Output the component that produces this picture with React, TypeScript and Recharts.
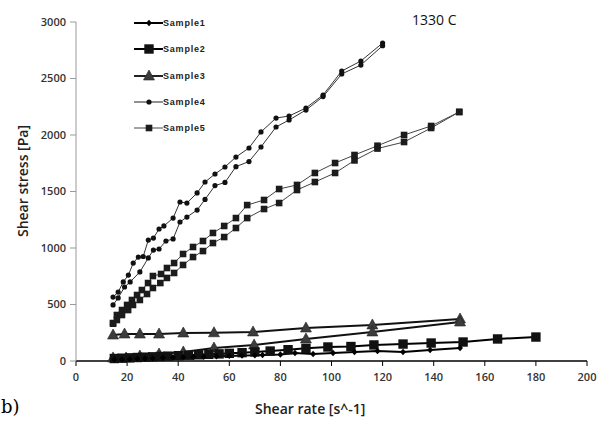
import React from 'react';
import { LineChart, Line, XAxis, YAxis } from 'recharts';

// shear rate [s^-1] / shear stress [Pa]
const s1X = [15, 18, 21, 24, 27, 30, 34, 38, 42, 46, 50, 55, 60, 65, 70, 73, 80, 85.7, 92.8, 100.6, 109, 118, 128, 138.6, 150.3];
const s1Y = [12, 14, 17, 20, 22, 25, 28, 30, 33, 36, 38, 42, 45, 48, 50, 53, 58, 71, 62, 71, 80, 88, 80, 97, 115];

const s2X = [15, 18, 21, 24, 27, 30, 33, 36, 40, 44, 48, 52, 56, 60, 65, 70, 76, 83, 90, 98.6, 107.6, 116.6, 128, 139, 151.5, 165, 180];
const s2Y = [22, 25, 28, 31, 34, 37, 40, 43, 47, 51, 55, 59, 63, 68, 74, 80, 88, 100, 112, 124, 128, 142, 150, 159, 168, 195, 212];

const s3UpX = [14.5, 19, 25, 32.5, 42, 54, 69.3, 90, 116, 150.3];
const s3UpY = [230, 239, 239, 239, 248, 250, 257, 292, 319, 372];
const s3DownX = [14.5, 19.6, 25, 32.5, 42, 54, 69.7, 90, 116, 150.3];
const s3DownY = [27, 27, 44, 62, 80, 115, 142, 195, 257, 345];

const s4UpX = [14.5, 16.5, 18.5, 20.5, 22.4, 24.4, 26.3, 28.3, 30.3, 32.5, 34.4, 38, 40.7, 43.4, 47.4, 50.5, 54.4, 58.3, 62.6, 67.7, 72.4, 78.3, 83.4, 90, 96.7, 104, 111.5, 120];
const s4UpY = [566, 610, 700, 760, 867, 920, 925, 1070, 1088, 1168, 1195, 1265, 1407, 1398, 1487, 1584, 1655, 1717, 1805, 1885, 2027, 2150, 2168, 2239, 2354, 2566, 2655, 2814];
const s4DownX = [14.5, 16.5, 19, 21.2, 25, 28.3, 30.3, 32.5, 35.2, 38, 40.7, 43.4, 47.4, 50.5, 54.4, 58.3, 62.6, 67.7, 72.4, 78.3, 83.4, 90, 96.7, 104, 111.5, 120];
const s4DownY = [496, 558, 655, 700, 788, 912, 982, 991, 1062, 1080, 1230, 1274, 1336, 1430, 1552, 1580, 1720, 1765, 1894, 2071, 2133, 2221, 2340, 2540, 2619, 2790];

const s5UpX = [14.5, 16, 18, 20, 21.9, 23.9, 25.8, 28.2, 30.1, 33.3, 35.6, 38.4, 41.9, 45.8, 49.7, 53.6, 58, 62.6, 67, 73.6, 79.5, 86.5, 93.5, 101.4, 109, 118, 128.4, 139, 150];
const s5UpY = [336, 407, 451, 496, 540, 584, 628, 690, 752, 770, 823, 867, 947, 1009, 1062, 1133, 1195, 1265, 1380, 1425, 1522, 1558, 1664, 1752, 1823, 1905, 2000, 2080, 2204];
const s5DownX = [14.5, 16, 18, 20.4, 22.3, 25, 27.8, 30.1, 33, 35.6, 38.4, 41.9, 45.8, 49.7, 53.6, 58, 62.6, 67, 73.6, 79.5, 86.5, 93.5, 101.4, 109, 118, 128.4, 139, 150];
const s5DownY = [330, 363, 407, 451, 496, 540, 593, 646, 690, 735, 779, 850, 920, 973, 1044, 1097, 1177, 1265, 1345, 1398, 1513, 1584, 1664, 1775, 1880, 1938, 2062, 2204];

const xTicks = [0, 20, 40, 60, 80, 100, 120, 140, 160, 180, 200];
const yTicks = [0, 500, 1000, 1500, 2000, 2500, 3000];
const legendNames = ['Sample1', 'Sample2', 'Sample3', 'Sample4', 'Sample5'];

const zip = (xs: number[], ys: number[]) => xs.map((x, i) => ({ x, y: ys[i] }));

type Marker = 'diamond' | 'bigSquare' | 'triangle' | 'circle' | 'square';

function markerShape(kind: Marker, cx: number, cy: number, key?: string | number) {
  switch (kind) {
    case 'diamond':
      return <path key={key} d={`M${cx},${cy - 3.2}L${cx + 3},${cy}L${cx},${cy + 3.2}L${cx - 3},${cy}Z`} fill="#000" />;
    case 'bigSquare':
      return <rect key={key} x={cx - 4.7} y={cy - 4.7} width={9.4} height={9.4} fill="#111" />;
    case 'triangle':
      return <path key={key} d={`M${cx},${cy - 6}L${cx + 5.5},${cy + 4}L${cx - 5.5},${cy + 4}Z`} fill="#3c3c3c" stroke="#222" strokeWidth={0.6} />;
    case 'circle':
      return <circle key={key} cx={cx} cy={cy} r={2.6} fill="#111" />;
    case 'square':
      return <rect key={key} x={cx - 3.3} y={cy - 3.3} width={6.6} height={6.6} fill="#1c1c1c" />;
  }
}

const dotFor = (kind: Marker) => (props: any) => markerShape(kind, props.cx, props.cy, props.key ?? props.index);

const series = [
  { id: 's3up', data: zip(s3UpX, s3UpY), stroke: '#111', width: 2, marker: 'triangle' as Marker },
  { id: 's3down', data: zip(s3DownX, s3DownY), stroke: '#111', width: 2, marker: 'triangle' as Marker },
  { id: 's2', data: zip(s2X, s2Y), stroke: '#000', width: 2, marker: 'bigSquare' as Marker },
  { id: 's1', data: zip(s1X, s1Y), stroke: '#000', width: 2, marker: 'diamond' as Marker },
  { id: 's5up', data: zip(s5UpX, s5UpY), stroke: '#444', width: 1, marker: 'square' as Marker },
  { id: 's5down', data: zip(s5DownX, s5DownY), stroke: '#444', width: 1, marker: 'square' as Marker },
  { id: 's4up', data: zip(s4UpX, s4UpY), stroke: '#333', width: 1, marker: 'circle' as Marker },
  { id: 's4down', data: zip(s4DownX, s4DownY), stroke: '#333', width: 1, marker: 'circle' as Marker },
];

const legendStyle: { marker: Marker; stroke: string; width: number }[] = [
  { marker: 'diamond', stroke: '#000', width: 2 },
  { marker: 'bigSquare', stroke: '#000', width: 2 },
  { marker: 'triangle', stroke: '#222', width: 2 },
  { marker: 'circle', stroke: '#222', width: 1 },
  { marker: 'square', stroke: '#666', width: 1.2 },
];

const labelFont = '"Open Sans", sans-serif';

export default function App() {
  return (
    <div style={{ position: 'absolute', left: 0, top: 0, width: 607, height: 421, background: '#fff', overflow: 'hidden' }}>
      <LineChart width={607} height={421} margin={{ top: 22, right: 20, bottom: 30, left: 0 }}>
        <XAxis
          type="number"
          dataKey="x"
          domain={[0, 200]}
          ticks={xTicks}
          height={30}
          axisLine={{ stroke: '#000', strokeWidth: 1.3 }}
          tickLine={{ stroke: '#000' }}
          tickSize={5}
          tickMargin={7}
          tick={{ fill: '#333', fontSize: 11, fontWeight: 600, fontFamily: labelFont }}
        />
        <YAxis
          type="number"
          dataKey="y"
          domain={[0, 3000]}
          ticks={yTicks}
          width={76}
          axisLine={{ stroke: '#999' }}
          tickLine={{ stroke: '#999' }}
          tickSize={6}
          tickMargin={4}
          tick={{ fill: '#333', fontSize: 11, fontWeight: 600, fontFamily: labelFont }}
        />
        {series.map((s) => (
          <Line
            key={s.id}
            data={s.data}
            dataKey="y"
            type="linear"
            stroke={s.stroke}
            strokeWidth={s.width}
            dot={dotFor(s.marker)}
            activeDot={false}
            isAnimationActive={false}
          />
        ))}
      </LineChart>

      {/* legend, inside the plot at top left */}
      <div style={{ position: 'absolute', left: 134, top: 16 }}>
        {legendNames.map((name, i) => (
          <div key={name} style={{ position: 'absolute', top: i * 26.3, left: 0, display: 'flex', alignItems: 'center', height: 14 }}>
            <svg width={29} height={14}>
              <line x1={0} y1={7} x2={29} y2={7} stroke={legendStyle[i].stroke} strokeWidth={legendStyle[i].width} />
              {markerShape(legendStyle[i].marker, 15, 7)}
            </svg>
            <span style={{ fontFamily: '"Liberation Sans", Arial, sans-serif', fontSize: 9, fontWeight: 'bold', letterSpacing: 0.8, color: '#222', whiteSpace: 'nowrap' }}>
              {name}
            </span>
          </div>
        ))}
      </div>

      <div style={{ position: 'absolute', left: 412, top: 10, fontFamily: labelFont, fontSize: 14, color: '#111' }}>1330 C</div>

      <div
        style={{
          position: 'absolute',
          left: 22,
          top: 181,
          transform: 'translate(-50%, -50%) rotate(-90deg)',
          fontFamily: labelFont,
          fontSize: 14,
          fontWeight: 600,
          color: '#222',
          whiteSpace: 'nowrap',
        }}
      >
        Shear stress [Pa]
      </div>

      <div style={{ position: 'absolute', left: 255, top: 399, fontFamily: labelFont, fontSize: 14, fontWeight: 600, color: '#222', whiteSpace: 'nowrap' }}>
        Shear rate [s^-1]
      </div>

      <div style={{ position: 'absolute', left: 1, top: 396, fontFamily: '"DejaVu Serif", serif', fontSize: 18, color: '#000' }}>b)</div>
    </div>
  );
}
